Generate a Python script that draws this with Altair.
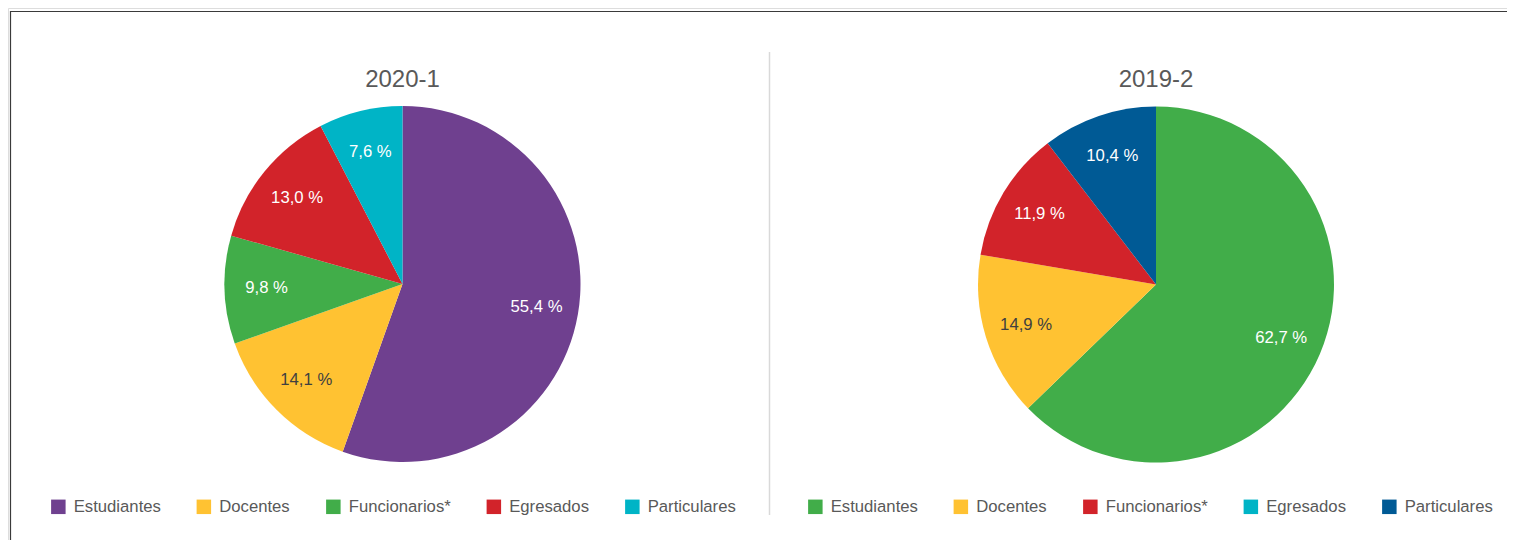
import altair as alt
import pandas as pd

categorias = ["Estudiantes", "Docentes", "Funcionarios*", "Egresados", "Particulares"]
valores_2020_1 = [55.4, 14.1, 9.8, 13.0, 7.6]
valores_2019_2 = [62.7, 14.9, 11.9, 0.0, 10.4]
colores_2020_1 = ["#6F408F", "#FFC232", "#41AD49", "#D2232A", "#00B4C6"]
colores_2019_2 = ["#41AD49", "#FFC232", "#D2232A", "#00B4C6", "#005A95"]
titulos = ["2020-1", "2019-2"]

FONT = "Liberation Sans, Arial, sans-serif"
GRAY = "#595959"


def fmt(v):
    return f"{v:.1f} %".replace(".", ",")


def pie(vals, cols, cx, cy, lx, ly, title):
    df = pd.DataFrame({
        "categoria": categorias,
        "valor": vals,
        "orden": list(range(len(categorias))),
        "etiqueta": [fmt(v) for v in vals],
    })
    base = alt.Chart(df).encode(
        theta=alt.Theta("valor:Q", stack=True),
        order=alt.Order("orden:Q"),
    )
    arc = base.mark_arc(radius=178).encode(
        x=alt.value(cx),
        y=alt.value(cy),
        color=alt.Color(
            "categoria:N",
            sort=categorias,
            scale=alt.Scale(domain=categorias, range=cols),
            legend=alt.Legend(
                orient="none", legendX=lx, legendY=ly, direction="horizontal",
                columns=5, title=None, symbolType="square", symbolSize=210,
                symbolStrokeWidth=0, labelFontSize=16.7, labelFont=FONT,
                labelColor=GRAY, columnPadding=34.5, labelOffset=7, padding=0,
                labelLimit=300,
            ),
        ),
    )
    text = base.transform_filter("datum.valor > 0").mark_text(
        radius=136, font=FONT, fontSize=16.7, align="center", baseline="middle"
    ).encode(
        x=alt.value(cx),
        y=alt.value(cy),
        text="etiqueta:N",
        color=alt.condition(alt.datum.categoria == "Docentes", alt.value("#404040"), alt.value("white")),
    )
    tdf = pd.DataFrame({"t": [title]})
    ttl = alt.Chart(tdf).mark_text(font=FONT, fontSize=24, color=GRAY, align="center",
                                    baseline="alphabetic").encode(
        x=alt.value(cx), y=alt.value(79), text="t:N")
    return alt.layer(arc, text, ttl)


one = pd.DataFrame({"k": [0]})
top_line = alt.Chart(one).mark_rule(color="#3A3A3A", strokeWidth=1.2).encode(
    x=alt.value(2), x2=alt.value(1499), y=alt.value(3.5))
left_line = alt.Chart(one).mark_rule(color="#3A3A3A", strokeWidth=1.2).encode(
    x=alt.value(2.5), y=alt.value(3), y2=alt.value(532))
sep_line = alt.Chart(one).mark_rule(color="#D9D9D9", strokeWidth=1.5).encode(
    x=alt.value(761.5), y=alt.value(44), y2=alt.value(507))

left = pie(valores_2020_1, colores_2020_1, 394.5, 276, 42, 490, titulos[0])
right = pie(valores_2019_2, colores_2019_2, 1148, 276.5, 799, 490, titulos[1])

chart = alt.layer(top_line, left_line, sep_line, left, right).resolve_scale(
    theta="independent", color="independent"
).properties(
    width=1499, height=532, padding=0, autosize=alt.AutoSizeParams(type="none")
).configure_view(stroke=None).configure(background="white")

chart.save("out.html", embed_options={"renderer": "svg", "actions": False})
